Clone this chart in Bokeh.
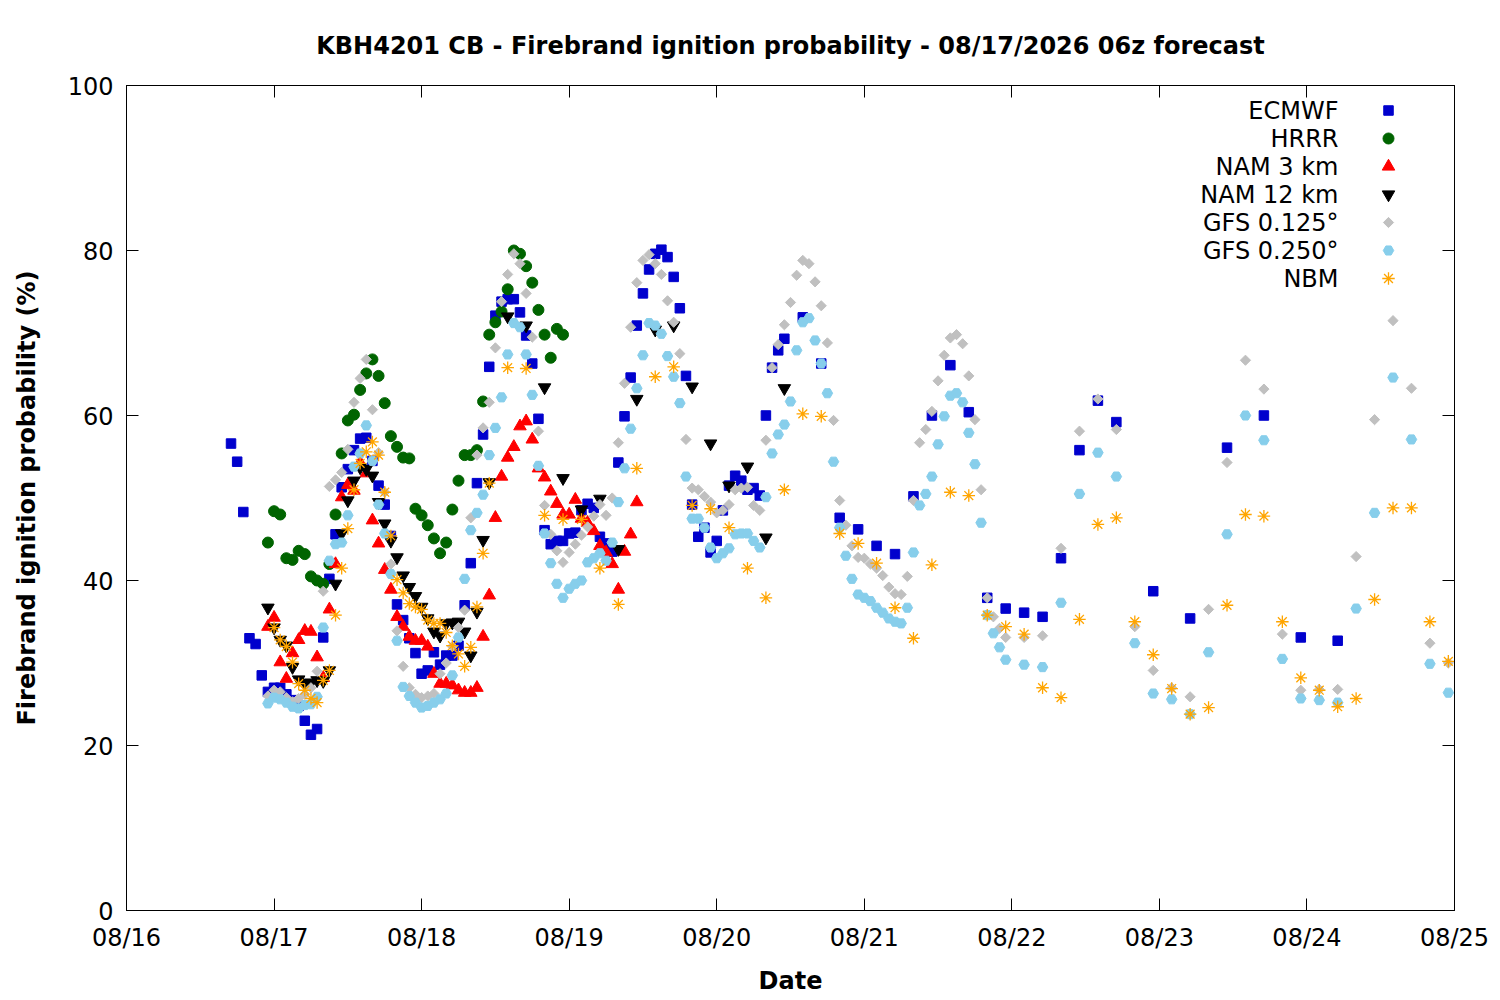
import numpy as np
from bokeh.plotting import figure
from bokeh.models import Range1d, FixedTicker, LinearAxis, Label
from bokeh.embed import file_html
from bokeh.resources import INLINE

# ---------------- data (x = hours since 08/16 00:00, y = probability %) ----------------
date_labels = ["08/16", "08/17", "08/18", "08/19", "08/20", "08/21", "08/22", "08/23", "08/24", "08/25"]
y_ticks = [0, 20, 40, 60, 80, 100]

ecmwf_hours = list(range(17, 108)) + list(range(110, 162, 3)) + list(range(167, 198, 6))
ecmwf_vals = [
    56.6, 54.4, 48.3, 33.0, 32.3, 28.5, 26.5, 27.0, 27.0, 26.2,
    25.5, 24.8, 23.0, 21.3, 22.0, 33.1, 40.2, 45.6, 51.3, 53.5,
    55.8, 57.2, 57.3, 54.5, 51.5, 49.2, 45.4, 37.1, 35.2, 33.0,
    31.2, 28.7, 29.1, 31.3, 29.8, 30.9, 30.9, 32.1, 37.0, 42.1,
    51.8, 57.7, 65.9, 72.1, 73.8, 74.1, 74.1, 72.5, 69.7, 66.3,
    59.6, 46.1, 44.4, 44.8, 44.8, 45.7, 45.8, 48.5, 49.3, 48.8,
    45.3, 44.5, 43.5, 54.3, 59.9, 64.6, 70.9, 74.8, 77.7, 79.6,
    80.1, 79.2, 76.8, 73.0, 64.8, 49.2, 45.3, 46.4, 43.4, 44.8,
    48.5, 51.5, 52.7, 52.1, 51.0, 51.2, 50.3, 60.0, 65.8, 67.9, 69.3,
    71.9, 66.3, 47.6, 46.2, 44.2, 43.2, 50.2, 60.0, 66.1, 60.4,
    37.9, 36.6, 36.1, 35.6, 42.7, 55.8, 61.8, 59.2,
    38.7, 35.4, 56.1, 60.0, 33.1, 32.7,
]

hrrr_hours = list(range(23, 72))
hrrr_vals = [
    44.6, 48.4, 48.0, 42.7, 42.5, 43.6, 43.2, 40.5, 40.0, 39.6,
    42.0, 48.0, 55.4, 59.4, 60.1, 63.1, 65.1, 66.8, 64.8, 61.5,
    57.5, 56.2, 54.9, 54.8, 48.7, 47.9, 46.7, 45.1, 43.3, 44.6,
    48.6, 52.1, 55.2, 55.2, 55.8, 61.7, 69.8, 71.3, 72.6, 75.3,
    80.0, 79.6, 78.1, 76.1, 72.8, 69.8, 67.0, 70.5, 69.8,
]

nam3_hours = list(range(23, 84))
nam3_vals = [
    34.4, 35.5, 30.1, 28.1, 31.2, 32.8, 33.9, 33.8, 30.7, 28.2,
    36.5, 42.0, 50.1, 51.6, 50.9, 54.3, 53.0, 47.3, 44.5, 41.3,
    38.9, 35.6, 34.4, 33.2, 32.7, 32.7, 32.0, 28.7, 27.5, 27.5,
    27.3, 26.7, 26.4, 26.4, 27.0, 33.2, 38.2, 47.6, 52.6, 54.9,
    56.2, 58.7, 59.3, 57.1, 53.6, 52.5, 50.8, 49.3, 48.0, 48.0,
    49.8, 47.5, 47.0, 46.0, 44.2, 43.4, 42.0, 38.9, 43.5, 45.6, 49.5,
]

nam12_hours = list(range(23, 60)) + list(range(62, 108, 3))
nam12_vals = [
    36.7, 34.3, 32.8, 32.1, 29.5, 28.0, 27.6, 27.6, 27.9, 27.8,
    29.1, 39.6, 45.7, 49.7, 52.1, 53.7, 53.5, 52.7, 49.5, 46.9,
    44.8, 42.8, 40.6, 39.2, 38.1, 36.8, 35.4, 33.8, 33.3, 34.8,
    34.9, 35.0, 33.8, 30.9, 36.2, 44.9, 51.9,
    72.0, 70.9, 63.4, 52.4, 48.6, 49.9, 43.8, 62.0, 70.4, 70.9,
    63.5, 56.6, 51.5, 53.8, 45.2, 63.3,
]

gfs125_hours = list(range(23, 144)) + list(range(146, 216, 3))
gfs125_vals = [
    26.0, 26.7, 26.5, 25.8, 25.3, 25.7, 26.2, 27.0, 29.0, 38.7,
    51.4, 52.2, 53.1, 55.9, 61.6, 64.5, 66.8, 60.7, 55.5, 50.7,
    42.0, 33.9, 29.6, 27.0, 26.2, 25.8, 26.0, 26.3, 28.7, 30.0,
    32.0, 34.3, 36.4, 47.6, 55.2, 58.5, 61.6, 68.2, 73.8, 77.1,
    79.6, 78.4, 74.8, 69.5, 58.1, 49.1, 45.6, 43.6, 42.2, 43.4,
    44.4, 45.5, 46.5, 47.8, 49.2, 47.9, 50.0, 56.7, 63.9, 70.7,
    76.1, 78.8, 79.5, 78.4, 77.1, 73.9, 71.3, 67.5, 57.1, 51.2,
    51.0, 50.2, 49.5, 48.2, 48.5, 49.2, 51.0, 51.2, 51.3, 49.1,
    48.5, 57.0, 65.8, 68.6, 71.0, 73.7, 77.0, 78.8, 78.4, 76.2,
    73.3, 68.8, 59.4, 49.7, 46.7, 44.2, 42.8, 42.7, 42.0, 41.5,
    40.6, 39.2, 38.4, 38.3, 40.5, 49.7, 56.7, 58.3, 60.5, 64.2,
    67.3, 69.4, 69.8, 68.7, 64.8, 59.5, 51.0, 37.9, 35.6, 34.2, 33.1,
    33.1, 33.3, 43.9, 58.1, 62.0, 58.3, 34.4, 29.1, 27.0, 25.9,
    36.5, 54.3, 66.7, 63.2, 33.5, 26.7, 26.8, 26.8, 42.9, 59.5,
    71.5, 63.3, 32.4, 30.0,
]

gfs250_hours = list(range(23, 144)) + list(range(146, 216, 3))
gfs250_vals = [
    25.1, 25.8, 25.6, 25.2, 24.7, 24.5, 24.9, 25.0, 25.9, 34.3,
    42.4, 44.4, 44.6, 47.9, 53.8, 55.4, 58.8, 54.5, 49.2, 45.7,
    40.8, 32.7, 27.1, 26.0, 25.2, 24.6, 24.8, 25.2, 25.6, 26.3,
    28.5, 33.1, 40.2, 46.1, 48.2, 50.4, 55.2, 58.5, 62.2, 67.4,
    71.2, 70.7, 67.4, 62.5, 53.9, 45.7, 42.1, 39.6, 37.9, 39.0,
    39.6, 40.0, 42.2, 42.7, 43.3, 42.4, 44.6, 49.5, 53.6, 58.4,
    63.3, 67.3, 71.2, 70.9, 69.9, 67.2, 64.7, 61.5, 52.6, 47.5,
    47.5, 46.4, 44.0, 42.7, 43.3, 43.9, 45.6, 45.7, 45.7, 44.8,
    44.0, 50.1, 55.4, 57.7, 58.9, 61.7, 67.9, 71.3, 71.8, 69.1,
    66.3, 62.7, 54.4, 46.4, 43.0, 40.2, 38.3, 37.9, 37.5, 36.7,
    36.1, 35.4, 35.0, 34.8, 36.7, 43.4, 49.1, 50.5, 52.6, 56.5,
    59.9, 62.4, 62.7, 61.6, 57.9, 54.1, 47.0, 35.8, 33.6, 31.9, 30.4,
    29.8, 29.5, 37.3, 50.5, 55.5, 52.6, 32.4, 26.3, 25.6, 23.8,
    31.3, 45.6, 60.0, 57.0, 30.5, 25.7, 25.5, 25.2, 36.6, 48.2,
    64.6, 57.1, 29.9, 26.4,
]

nbm_hours = list(range(24, 60)) + list(range(62, 216, 3))
nbm_vals = [
    34.3, 32.8, 32.0, 30.1, 27.5, 26.7, 25.7, 25.2, 27.9, 29.1,
    35.8, 41.5, 46.3, 51.0, 54.2, 55.6, 56.8, 55.2, 50.7, 45.4,
    40.1, 38.5, 37.2, 36.8, 36.5, 35.2, 34.8, 34.8, 33.7, 32.1,
    31.1, 29.6, 31.9, 36.8, 43.3, 51.8,
    65.8, 65.7, 47.9, 47.4, 47.4, 41.5, 37.1, 53.6, 64.7, 65.9,
    49.1, 48.7, 46.4, 41.5, 37.9, 51.0, 60.2, 59.9, 45.7, 44.5,
    42.1, 36.7, 33.0, 41.9, 50.7, 50.3, 35.8, 34.4, 33.5, 27.0,
    25.8, 35.3, 46.8, 47.6, 35.0, 31.0, 26.9, 23.8, 24.6, 37.0,
    48.0, 47.8, 35.0, 28.2, 26.7, 24.7, 25.7, 37.7, 48.8, 48.8,
    35.0, 30.2,
]

series_names = ["ECMWF", "HRRR", "NAM 3 km", "NAM 12 km", "GFS 0.125°", "GFS 0.250°", "NBM"]

# ---------------- figure ----------------
FONT = "DejaVu Sans"
FS = "24px"
X0, X1 = 0, 216
FRAME_W, FRAME_H = 1328, 825

p = figure(width=1500, height=1000, output_backend="svg", toolbar_location=None,
           x_range=Range1d(X0, X1), y_range=Range1d(0, 100),
           min_border_left=126, min_border_right=46, min_border_top=85, min_border_bottom=90,
           background_fill_color="white", border_fill_color="white")

p.title.text = "KBH4201 CB - Firebrand ignition probability - 08/17/2026 06z forecast"
p.title.text_font = FONT
p.title.text_font_size = FS
p.title.text_font_style = "bold"
p.title.text_color = "black"
p.title.align = "center"
p.title.standoff = 52

p.outline_line_color = "black"
p.outline_line_width = 1
p.xgrid.visible = False
p.ygrid.visible = False

x_tick_pos = [24 * i for i in range(len(date_labels))]
p.xaxis.ticker = FixedTicker(ticks=x_tick_pos, minor_ticks=[])
p.xaxis.major_label_overrides = {t: lab for t, lab in zip(x_tick_pos, date_labels)}
p.yaxis.ticker = FixedTicker(ticks=y_ticks, minor_ticks=[])

for ax in (p.xaxis[0], p.yaxis[0]):
    ax.major_tick_in = 12
    ax.major_tick_out = 0
    ax.minor_tick_in = 0
    ax.minor_tick_out = 0
    ax.axis_line_color = "black"
    ax.major_tick_line_color = "black"
    ax.major_label_text_font = FONT
    ax.major_label_text_font_size = FS
    ax.major_label_text_color = "black"
    ax.axis_label_text_font = FONT
    ax.axis_label_text_font_size = FS
    ax.axis_label_text_font_style = "bold"
    ax.axis_label_text_color = "black"

p.xaxis.axis_label = "Date"
p.yaxis.axis_label = "Firebrand ignition probability (%)"
p.xaxis.major_label_standoff = 13
p.xaxis.axis_label_standoff = 12
p.yaxis.major_label_standoff = 13
p.yaxis.axis_label_standoff = 24

# mirrored ticks on right / top
for side, ticks in (("right", y_ticks), ("above", x_tick_pos)):
    ax = LinearAxis(ticker=FixedTicker(ticks=ticks, minor_ticks=[]),
                    major_tick_in=12, major_tick_out=0, minor_tick_in=0, minor_tick_out=0,
                    major_label_text_font_size="0px", major_label_text_color=None,
                    major_label_standoff=0, axis_line_color="black")
    p.add_layout(ax, side)

# ---------------- series ----------------
styles = [
    dict(marker="square", size=9.5, fill_color="#0000cd", line_color="#0000cd"),
    dict(marker="circle", size=11, fill_color="#006400", line_color="#006400"),
    dict(marker="triangle", size=12.5, fill_color="#ff0000", line_color="#ff0000"),
    dict(marker="inverted_triangle", size=12.5, fill_color="black", line_color="black"),
    dict(marker="square", angle=np.pi / 4, size=7.2, fill_color="#c0c0c0", line_color="#c0c0c0"),
    dict(marker="hex", size=10.5, fill_color="#87ceeb", line_color="#87ceeb"),
    dict(marker="asterisk", size=12.5, line_color="#ffa500", line_width=1.3),
]
all_series = [
    (ecmwf_hours, ecmwf_vals), (hrrr_hours, hrrr_vals), (nam3_hours, nam3_vals),
    (nam12_hours, nam12_vals), (gfs125_hours, gfs125_vals), (gfs250_hours, gfs250_vals),
    (nbm_hours, nbm_vals),
]
for (hx, vy), st in zip(all_series, styles):
    p.scatter(hx, vy, **st)

# ---------------- legend (gnuplot style: text right-aligned, symbol on the right) ----------------
def px_to_x(px):
    return X0 + (X1 - X0) * px / FRAME_W

def px_to_y(py_from_top):
    return 100 - 100 * py_from_top / FRAME_H

for i, (name, st) in enumerate(zip(series_names, styles)):
    row_px = 25 + 28 * i
    ly = px_to_y(row_px)
    p.scatter([px_to_x(1262)], [ly], **st)
    p.add_layout(Label(x=px_to_x(1212), y=ly, text=name, text_align="right", text_baseline="middle",
                       text_font=FONT, text_font_size=FS, text_color="black"))

open("out.html", "w").write(file_html(p, INLINE))
